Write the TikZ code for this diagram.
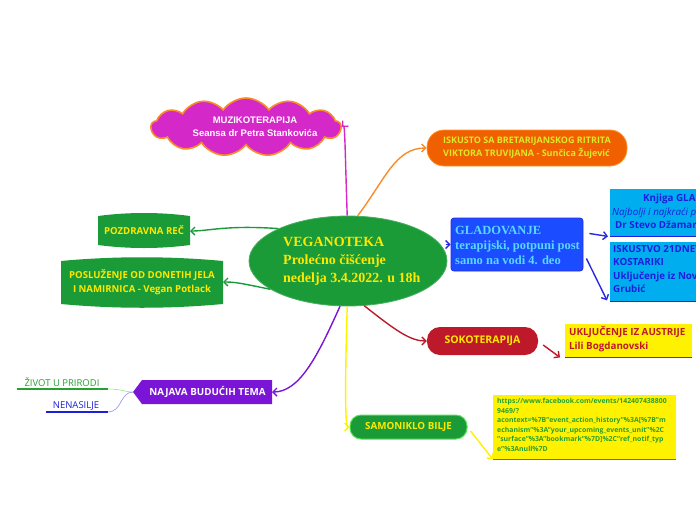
\documentclass[tikz,border=0pt]{standalone}
\usepackage{fontspec}
\setmainfont{Open Sans}
\newfontfamily\lsans{Liberation Sans}
\newfontfamily\lserif{Liberation Serif}
\usetikzlibrary{shapes.geometric,shapes.symbols,arrows.meta,calc}
\definecolor{cgreen}{RGB}{26,155,55}
\definecolor{cyel}{RGB}{255,232,0}
\definecolor{corange}{RGB}{240,96,0}
\definecolor{corbord}{RGB}{250,150,40}
\definecolor{corantext}{RGB}{220,232,40}
\definecolor{cmag}{RGB}{212,40,200}
\definecolor{cblue}{RGB}{28,76,255}
\definecolor{cbluebord}{RGB}{40,40,230}
\definecolor{cbluetext}{RGB}{90,215,255}
\definecolor{ccyantext}{RGB}{30,30,220}
\definecolor{cred}{RGB}{190,25,42}
\definecolor{cpurple}{RGB}{122,20,215}
\definecolor{cline}{RGB}{250,140,40}
\definecolor{curl}{RGB}{40,160,50}
\definecolor{clightgreen}{RGB}{90,225,90}
\begin{document}
\begin{tikzpicture}[x=1pt,y=-1pt,
  arr/.style={-{Straight Barb[length=4pt,width=8pt]}, line width=1.4pt},
  lbl/.style={inner sep=0pt, font=\bfseries\fontsize{9}{12}\selectfont},
]
\useasboundingbox (0,0) rectangle (696,520);
\clip (0,0) rectangle (696,520);

% ---------- centre ----------
\node[ellipse, fill=cgreen, draw=cgreen!80!white, line width=0.8pt, minimum width=198pt, minimum height=90pt, inner sep=0pt] (ve) at (348,261) {};
\node[anchor=west, align=left, inner sep=0pt, text=cyel, font=\lserif\bfseries\fontsize{14}{18}\selectfont] (vetext) at (283,261) {VEGANOTEKA\\Prolećno čišćenje\\nedelja 3.4.2022. u 18h};

% ---------- cloud ----------
\node[cloud, cloud puffs=13, cloud puff arc=110, aspect=3.2, fill=cmag, draw=cline, line width=1.6pt, minimum width=190pt, minimum height=58pt, inner sep=0pt] (mz) at (246,127) {};
\node[align=center, text=white, inner sep=0pt, font=\lsans\bfseries\fontsize{9.5}{13}\selectfont] (mztext) at (255,127) {MUZIKOTERAPIJA\\Seansa dr Petra Stankovića};

% ---------- orange ----------
\node[rounded corners=17pt, fill=corange, draw=corbord, line width=0.8pt, minimum width=200pt, minimum height=36pt, inner sep=0pt, align=left, text=corantext, font=\bfseries\fontsize{9}{13}\selectfont] (is) at (527,148) {ISKUSTO SA BRETARIJANSKOG RITRITA\\VIKTORA TRUVIJANA - Sunčica Žujević};

% ---------- gladovanje ----------
\node[rounded corners=3pt, fill=cblue, draw=cbluebord, line width=0.8pt, minimum width=132pt, minimum height=53pt, inner sep=0pt] (gl) at (517,244.5) {};
\node[anchor=west, align=left, inner sep=0pt, text=cbluetext, font=\lserif\bfseries\fontsize{12.5}{15}\selectfont] (gltext) at (455,245) {GLADOVANJE\\terapijski, potpuni post\\samo na vodi 4. deo};

% ---------- cyan boxes ----------
\node[fill=cyan, minimum width=180pt, minimum height=47pt, inner sep=0pt, anchor=north west] (kn) at (610,189) {};
\draw[ccyantext, line width=1.8pt] (kn.south west) -- (kn.south east);
\node[anchor=west, inner sep=0pt, text=ccyantext, font=\bfseries\fontsize{9.8}{11}\selectfont] (kn1) at (643,199) {Knjiga GLADOVANJE};
\node[anchor=west, inner sep=0pt, text=ccyantext, font=\itshape\fontsize{9.8}{11}\selectfont] (kn2) at (612,212.5) {Najbolji i najkraći put do zdravlja};
\node[anchor=west, inner sep=0pt, text=ccyantext, font=\bfseries\fontsize{9.8}{11}\selectfont] (kn3) at (615,226) {Dr Stevo Džamarija};

\node[fill=cyan, minimum width=180pt, minimum height=59pt, inner sep=0pt, anchor=north west] (ik) at (610,242) {};
\draw[ccyantext, line width=1.8pt] (ik.south west) -- (ik.south east);
\node[anchor=north west, align=left, inner sep=0pt, text=ccyantext, font=\bfseries\fontsize{9.8}{13.5}\selectfont] (iktext) at (613,245) {ISKUSTVO 21DNEVNOG GLADOVANJA U\\KOSTARIKI\\Uključenje iz Novog Sada Dragana\\Grubić};

% ---------- sokoterapija ----------
\node[rounded corners=13pt, fill=cred, minimum width=111pt, minimum height=28pt, inner sep=0pt, text=cyel, font=\bfseries\fontsize{10.5}{12}\selectfont] (so) at (482.5,341) {SOKOTERAPIJA};
\node[fill=yellow, minimum width=127pt, minimum height=33pt, inner sep=0pt, anchor=north west] (uk) at (565,324) {};
\draw[cred, line width=1.5pt] (uk.south west) -- (uk.south east);
\node[anchor=north west, align=left, inner sep=0pt, text=cred, font=\bfseries\fontsize{9.8}{14}\selectfont] (uktext) at (569,326) {UKLJUČENJE IZ AUSTRIJE\\Lili Bogdanovski};

% ---------- samoniklo ----------
\node[rounded corners=11pt, fill=cgreen, draw=clightgreen, line width=1pt, minimum width=117pt, minimum height=24pt, inner sep=0pt, text=cyel, font=\bfseries\fontsize{9.8}{12}\selectfont] (sa) at (408.5,427) {SAMONIKLO BILJE};
\node[fill=yellow, minimum width=183pt, minimum height=64pt, inner sep=0pt, anchor=north west] (url) at (493,395) {};
\draw[curl, line width=1.5pt] (url.south west) -- (url.south east);
\node[anchor=north west, align=left, inner sep=0pt, text=curl, font=\bfseries\fontsize{6.9}{9.6}\selectfont] (urltext) at (497,398) {https://www.facebook.com/events/142407438800\\9469/?\\acontext=\%7B"event\_action\_history"\%3A[\%7B"m\\echanism"\%3A"your\_upcoming\_events\_unit"\%2C\\"surface"\%3A"bookmark"\%7D]\%2C"ref\_notif\_typ\\e"\%3Anull\%7D};

% ---------- left barrels ----------
\fill[cgreen] (98,216) .. controls (128,212) and (160,212) .. (190,216) -- (190,245) .. controls (160,249) and (128,249) .. (98,245) -- cycle;
\node[lbl, text=cyel, font=\bfseries\fontsize{9.6}{12}\selectfont] (poz) at (144,230.5) {POZDRAVNA REČ};
\fill[cgreen] (61,261) .. controls (115,256) and (169,256) .. (223,261) -- (223,304) .. controls (169,309) and (115,309) .. (61,304) -- cycle;
\node[lbl, align=center, text=cyel, font=\bfseries\fontsize{9.6}{14}\selectfont] (pos) at (142,282.5) {POSLUŽENJE OD DONETIH JELA\\I NAMIRNICA - Vegan Potlack};
\coordinate (pozE) at (190,231);
\coordinate (posE) at (223,282);

% ---------- najava ----------
\fill[cpurple] (133,392) -- (142,380) -- (272,380) -- (272,404) -- (142,404) -- cycle;
\node[lbl, text=white, font=\bfseries\fontsize{9.8}{12}\selectfont] (na) at (207.5,392) {NAJAVA BUDUĆIH TEMA};
\coordinate (naE) at (272,392);
\coordinate (naW) at (133,392);

\node[anchor=south, inner sep=0pt, text=curl, font=\fontsize{9.5}{11}\selectfont] (zi) at (62,387) {ŽIVOT U PRIRODI};
\draw[curl, line width=1.2pt] (17,389) -- (108,389);
\node[anchor=south, inner sep=0pt, text=ccyantext, font=\fontsize{9.5}{11}\selectfont] (ne) at (76,410) {NENASILJE};
\draw[ccyantext, line width=1.2pt] (46,412) -- (108,412);
\coordinate (ziE) at (108,389);
\coordinate (neE) at (108,412);
\draw[clightgreen!70!white, line width=0.6pt] (ziE) .. controls (122,389) and (124,392) .. (naW);
\draw[ccyantext!50!white, line width=0.6pt] (neE) .. controls (122,412) and (120,392) .. (naW);

% ---------- connectors ----------
\draw[arr, cmag] (ve.91) .. controls (345,150) and (345,124) .. (mz.east);
\draw[arr, cline] (ve.78) .. controls (385,180) and (395,148) .. (is.west);
\draw[arr, cbluebord] (ve.east |- gl.west) ++(-1,0) -- (gl.west);
\draw[arr, cbluebord] ($(gl.east)+(6,-11)$) -- ($(kn.south west)+(-2,0)$);
\draw[arr, cbluebord] ($(gl.east)+(3,14)$) -- ($(ik.south west)+(-3,-1)$);
\draw[arr, cred] (ve.-70) .. controls (395,330) and (410,341) .. (so.west);
\draw[arr, cred] ($(so.east)+(5,4)$) -- ($(uk.south west)+(-5,0)$);
\draw[arr, yellow] (ve.-91) .. controls (345,380) and (345,427) .. (sa.west);
\draw[arr, yellow] ($(sa.east)+(3,4)$) -- (url.south west);
\draw[arr, cpurple] (ve.-100) .. controls (318,355) and (300,392) .. (naE);
\draw[arr, cgreen] (ve.155) .. controls (225,225) and (210,231) .. (pozE);
\draw[arr, cgreen] (ve.200) .. controls (240,283) and (235,282) .. (posE);
\end{tikzpicture}
\end{document}
